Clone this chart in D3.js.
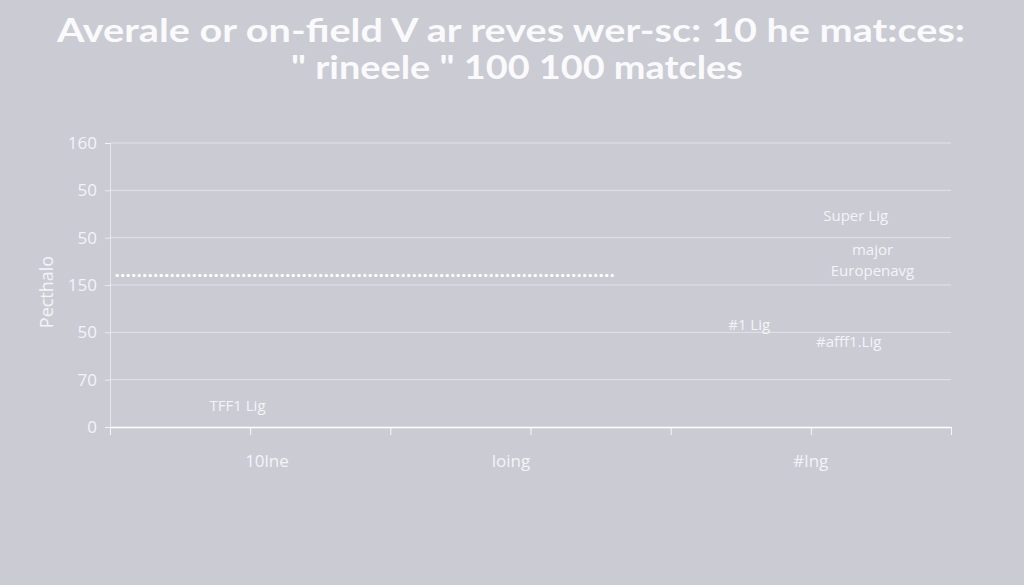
<!DOCTYPE html>
<html>
<head>
<meta charset="utf-8">
<script src="https://cdn.jsdelivr.net/npm/d3@7"></script>
<style>
  html, body { margin: 0; padding: 0; background: #cbcbd4; }
  svg { display: block; }
</style>
</head>
<body>
<svg id="chart" width="1024" height="585"></svg>
<script>
// title lines, as printed on the chart
var titleLines = ['Averale or on-field V ar reves  wer-sc: 10 he mat:ces:', '" rineele  " 100 100 matcles']

// y axis: one gridline per step, labels listed bottom first
var yTickValues = [0, 1, 2, 3, 4, 5, 6]
var yTickLabels = ['0', '70', '50', '150', '50', '50', '160']
var yTitle = 'Pecthalo'

// x axis ticks and the three category labels
var xTickValues = [0, 1, 2, 3, 4, 5, 6]
var xCategories = ['10lne', 'loing', '#lng']
var xCategoryPos = [1.12, 2.86, 5.0]

// dotted reference line (start x, end x, value)
var refLine = {x0: 0.05, x1: 3.6, value: 3.2}

// league labels placed in the plot ('|' breaks a line)
var noteText = ['Super Lig', 'major|Europenavg', '#1 Lig', '#afff1.Lig', 'TFF1 Lig']
var noteX    = [5.32, 5.44, 4.56, 5.27, 0.91]
var noteY    = [4.46, 3.74, 2.16, 1.80, 0.44]

var svg = d3.select('#chart')
var titleFont = 'Lato, "Open Sans", sans-serif'
var font = '"Open Sans", Lato, sans-serif'
var ink = '#f4f4f8'

// plot frame (window.top is taken, so prefix these)
var plotLeft = 110, plotRight = 951, plotTop = 143, plotBottom = 427

var x = d3.scaleLinear().domain([0, 6]).range([plotLeft, plotRight])
var y = d3.scaleLinear().domain([0, 6]).range([plotBottom, plotTop])

// title
svg.append('text')
    .attr('x', 511).attr('y', 42)
    .attr('text-anchor', 'middle')
    .attr('font-family', titleFont)
    .attr('font-weight', 'bold')
    .attr('font-size', 32)
    .attr('fill', '#fafafc')
    .attr('textLength', 908)
    .attr('lengthAdjust', 'spacingAndGlyphs')
    .text(titleLines[0])

svg.append('text')
    .attr('x', 517).attr('y', 79)
    .attr('text-anchor', 'middle')
    .attr('font-family', titleFont)
    .attr('font-weight', 'bold')
    .attr('font-size', 32)
    .attr('fill', '#fafafc')
    .attr('textLength', 452)
    .attr('lengthAdjust', 'spacingAndGlyphs')
    .text(titleLines[1])

// gridlines
svg.append('g')
    .selectAll('line')
    .data(yTickValues.slice(1))
    .join('line')
    .attr('x1', plotLeft).attr('x2', plotRight)
    .attr('y1', function(d) { return y(d) })
    .attr('y2', function(d) { return y(d) })
    .attr('stroke', '#ffffff')
    .attr('stroke-opacity', 0.45)
    .attr('stroke-width', 1)

// y axis
var yAxis = svg.append('g')
    .attr('transform', 'translate(' + plotLeft + ',0)')
    .call(d3.axisLeft(y)
        .tickValues(yTickValues)
        .tickSize(5)
        .tickPadding(8)
        .tickFormat(function(d, i) { return yTickLabels[i] }))

yAxis.select('.domain').attr('stroke', '#ffffff').attr('stroke-opacity', 0.5)
yAxis.selectAll('.tick line').attr('stroke', '#ffffff').attr('stroke-opacity', 0.6)
yAxis.selectAll('.tick text')
    .attr('fill', ink)
    .attr('font-family', font)
    .attr('font-size', 17)

// x axis
var xAxis = svg.append('g')
    .attr('transform', 'translate(0,' + plotBottom + ')')
    .call(d3.axisBottom(x)
        .tickValues(xTickValues)
        .tickSize(8)
        .tickSizeOuter(0)
        .tickFormat(''))

xAxis.select('.domain').attr('stroke', '#ffffff').attr('stroke-width', 1.5)
xAxis.selectAll('.tick line').attr('stroke', '#ffffff').attr('stroke-opacity', 0.85)

svg.append('g')
    .selectAll('text')
    .data(xCategories)
    .join('text')
    .attr('x', function(d, i) { return x(xCategoryPos[i]) })
    .attr('y', plotBottom + 40)
    .attr('text-anchor', 'middle')
    .attr('font-family', font)
    .attr('font-size', 17)
    .attr('fill', ink)
    .text(function(d) { return d })

// y title
svg.append('text')
    .attr('transform', 'translate(53,292) rotate(-90)')
    .attr('text-anchor', 'middle')
    .attr('font-family', font)
    .attr('font-size', 18)
    .attr('fill', ink)
    .text(yTitle)

// dotted reference line
svg.append('line')
    .attr('x1', x(refLine.x0)).attr('x2', x(refLine.x1))
    .attr('y1', y(refLine.value)).attr('y2', y(refLine.value))
    .attr('stroke', '#ffffff')
    .attr('stroke-width', 3)
    .attr('stroke-linecap', 'round')
    .attr('stroke-dasharray', '0.5,5')

// league labels
var notes = svg.append('g')
    .selectAll('text')
    .data(noteText)
    .join('text')
    .attr('y', function(d, i) { return y(noteY[i]) })
    .attr('text-anchor', 'middle')
    .attr('font-family', font)
    .attr('font-size', 15)
    .attr('fill', ink)

notes.each(function(d, i) {
    var t = d3.select(this)
    d.split('|').forEach(function(part, k) {
        t.append('tspan')
            .attr('x', x(noteX[i]))
            .attr('dy', k == 0 ? '0.35em' : '1.4em')
            .text(part)
    })
})
</script>
</body>
</html>
